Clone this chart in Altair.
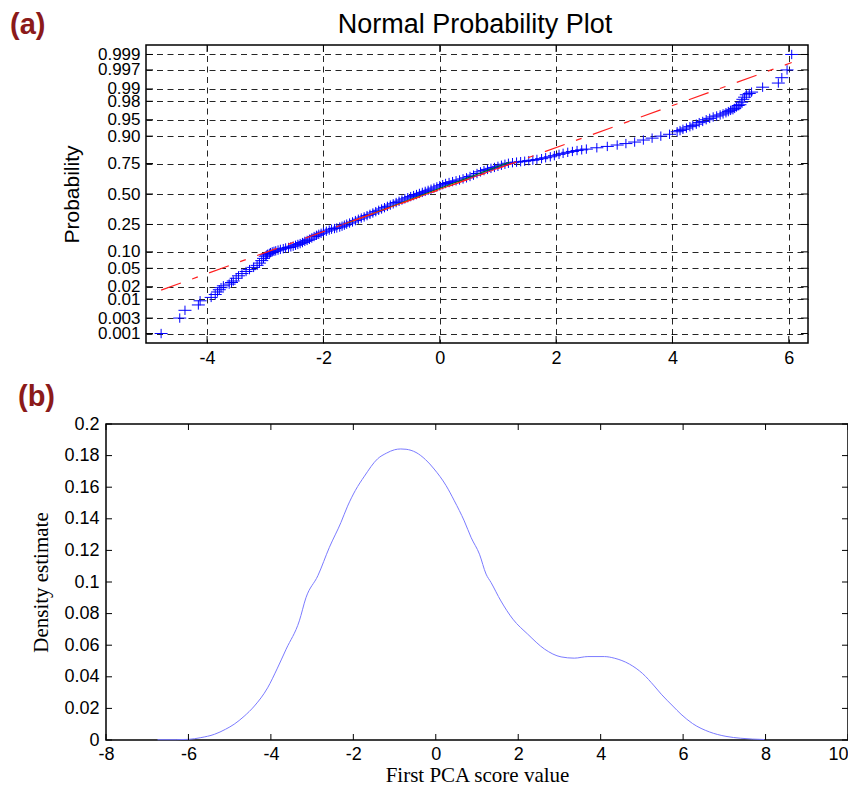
import altair as alt
import pandas as pd
from statistics import NormalDist

nd = NormalDist()

# ---------------- Panel (a): normal probability plot ----------------
pp_x = [
    -4.79, -4.47, -4.38, -4.15, -4.12, -3.93, -3.86, -3.82, -3.79, -3.76, -3.72, -3.62, -3.58, -3.55,
    -3.50, -3.46, -3.40, -3.33, -3.27, -3.20, -3.14, -3.10, -3.06, -3.03, -3.00, -2.96, -2.91, -2.85,
    -2.78, -2.69, -2.60, -2.52, -2.44, -2.36, -2.28, -2.20, -2.12, -2.04, -1.95, -1.86, -1.77, -1.68,
    -1.60, -1.50, -1.40, -1.30, -1.20, -1.10, -1.00, -0.90, -0.80, -0.70, -0.60, -0.50, -0.40, -0.30,
    -0.20, -0.10, 0.00, 0.10, 0.22, 0.34, 0.46, 0.58, 0.70, 0.82, 0.94, 1.06, 1.18, 1.32, 1.46, 1.60,
    1.75, 1.90, 2.05, 2.20, 2.36, 2.52, 2.70, 2.88, 3.05, 3.20, 3.35, 3.50, 3.65, 3.80, 3.95, 4.08,
    4.18, 4.30, 4.41, 4.52, 4.64, 4.76, 4.87, 4.96, 5.04, 5.10, 5.16, 5.19, 5.21, 5.24, 5.27, 5.32,
    5.36, 5.55, 5.82, 5.88, 5.97, 6.05,
]
pp_p = [
    0.001, 0.003, 0.005, 0.007, 0.009, 0.011, 0.013, 0.015, 0.017, 0.019, 0.021, 0.023, 0.025, 0.027,
    0.031, 0.035, 0.039, 0.043, 0.047, 0.052, 0.057, 0.063, 0.070, 0.077, 0.084, 0.091, 0.097, 0.102,
    0.107, 0.113, 0.118, 0.124, 0.132, 0.141, 0.152, 0.165, 0.180, 0.192, 0.205, 0.218, 0.226, 0.238,
    0.252, 0.268, 0.288, 0.306, 0.326, 0.348, 0.370, 0.392, 0.414, 0.436, 0.457, 0.477, 0.495, 0.514,
    0.532, 0.552, 0.572, 0.592, 0.608, 0.622, 0.640, 0.662, 0.688, 0.707, 0.722, 0.738, 0.752, 0.760,
    0.766, 0.773, 0.783, 0.795, 0.810, 0.822, 0.832, 0.840, 0.847, 0.854, 0.861, 0.868, 0.875, 0.884,
    0.892, 0.900, 0.907, 0.916, 0.924, 0.932, 0.939, 0.946, 0.953, 0.958, 0.962, 0.966, 0.969, 0.973,
    0.976, 0.979, 0.982, 0.984, 0.986, 0.987, 0.988, 0.991, 0.993, 0.995, 0.997, 0.999,
]
# further markers read inside the dense part of the band
band_x = [-2.98, -2.93, -2.88, -2.82, -2.74, -2.65, -2.56, -2.48, -2.40, -2.32, -2.24, -2.16, -2.08,
          -2.00, -1.90, -1.81, -1.72, -1.64, -1.55, -1.45, -1.35, -1.25, -1.15, -1.05, -0.95, -0.85,
          -0.75, -0.65, -0.55, -0.45, -0.35, -0.25, -0.15, -0.05, 0.05, 0.16, 0.28, 0.40, 0.52, 0.64,
          0.76, 0.88, 1.00, 1.12, 1.25, 1.39, 1.53, 1.67, 1.82, 1.97, 2.12, 2.28, 2.44, 4.13, 4.24,
          4.35, 4.46, 4.58, 4.70, 4.82, 4.92, 5.00, 5.07, 5.13]
band_p = [0.088, 0.094, 0.100, 0.104, 0.110, 0.116, 0.121, 0.128, 0.136, 0.147, 0.158, 0.173, 0.186,
          0.199, 0.212, 0.222, 0.232, 0.245, 0.260, 0.278, 0.297, 0.316, 0.337, 0.359, 0.381, 0.403,
          0.425, 0.447, 0.467, 0.486, 0.505, 0.523, 0.542, 0.562, 0.582, 0.600, 0.615, 0.631, 0.651,
          0.675, 0.698, 0.715, 0.730, 0.745, 0.756, 0.763, 0.770, 0.778, 0.789, 0.802, 0.816, 0.827,
          0.836, 0.920, 0.928, 0.935, 0.943, 0.950, 0.956, 0.960, 0.964, 0.968, 0.971, 0.975]
ref_x = [-4.79, 6.05]          # dash-dot reference line
ref_p = [0.0166, 0.9982]
mid_x = [-1.67, 1.23]          # solid part between the quartiles
mid_p = [0.25, 0.75]
grn_x = [-1.60, 1.20]
grn_p = [0.258, 0.760]
prob_ticks = [0.001, 0.003, 0.01, 0.02, 0.05, 0.10, 0.25, 0.50, 0.75, 0.90, 0.95, 0.98, 0.99, 0.997, 0.999]
prob_labels = ["0.001", "0.003", "0.01", "0.02", "0.05", "0.10", "0.25", "0.50", "0.75", "0.90",
               "0.95", "0.98", "0.99", "0.997", "0.999"]
xa_ticks = [-4, -2, 0, 2, 4, 6]
title_a = ["Normal Probability Plot"]
tag_a = ["(a)"]

# ---------------- Panel (b): density estimate ----------------
dens_x = [-6.75, -6.3, -6.0, -5.7, -5.37, -5.1, -4.89, -4.65, -4.40, -4.08, -3.85, -3.63, -3.31, -3.15,
          -2.86, -2.58, -2.30, -2.14, -1.95, -1.73, -1.41, -1.20, -1.0, -0.85, -0.72, -0.48, -0.25,
          -0.04, 0.25, 0.45, 0.69, 0.86, 1.06, 1.22, 1.34, 1.58, 1.87, 2.23, 2.64, 3.04, 3.36, 3.69,
          4.09, 4.33, 4.70, 5.02, 5.30, 5.47, 5.75, 5.95, 6.23, 6.64, 7.04, 7.40, 7.97]
dens_y = [0.0002, 0.0002, 0.0004, 0.0015, 0.0036, 0.0068, 0.010, 0.015, 0.0215, 0.033, 0.045, 0.0575,
          0.0754, 0.090, 0.104, 0.122, 0.1377, 0.148, 0.158, 0.167, 0.178, 0.1815, 0.1837, 0.1842,
          0.184, 0.182, 0.1775, 0.1715, 0.161, 0.1514, 0.1387, 0.128, 0.1176, 0.105, 0.0997, 0.088,
          0.0765, 0.067, 0.0575, 0.0526, 0.0518, 0.0528, 0.0528, 0.0518, 0.048, 0.042, 0.0342, 0.029,
          0.0215, 0.0163, 0.0104, 0.0051, 0.0023, 0.0011, 0.0003]
xb_ticks = [-8, -6, -4, -2, 0, 2, 4, 6, 8, 10]
yb_ticks = [0, 0.02, 0.04, 0.06, 0.08, 0.1, 0.12, 0.14, 0.16, 0.18, 0.2]
tag_b = ["(b)"]


def probit(p):
    return round(nd.inv_cdf(p), 5)


SANS = "Liberation Sans"
SERIF = "Liberation Serif"

# ---------------- build panel (a) ----------------
WA, HA = 662, 298
xs_a = alt.Scale(domain=[-5.05, 6.33], nice=False, zero=False)
ys_a = alt.Scale(domain=[-3.3, 3.3], nice=False, zero=False)
tick_z = [probit(p) for p in prob_ticks]
label_expr = "[" + ",".join("'%s'" % s for s in prob_labels) + "][indexof([" + \
    ",".join(repr(z) for z in tick_z) + "], datum.value)]"

df_pts = pd.DataFrame({"x": pp_x + band_x, "z": [probit(p) for p in pp_p + band_p]})
df_ref = pd.DataFrame({"x": ref_x, "z": [probit(p) for p in ref_p]})
df_mid = pd.DataFrame({"x": mid_x, "z": [probit(p) for p in mid_p]})
df_grn = pd.DataFrame({"x": grn_x, "z": [probit(p) for p in grn_p]})
df_xt_a = pd.DataFrame({"x": xa_ticks})
df_yt_a = pd.DataFrame({"z": tick_z})

grid_common = dict(grid=True, gridDash=[6, 4.5], gridColor="black", gridOpacity=0.85, gridWidth=1,
                   ticks=False, tickSize=0, domain=False, labelFont=SANS,
                   labelColor="black", labelFlush=False, labelOverlap=False)

x_axis_a = alt.Axis(values=xa_ticks, labelExpr="'' + datum.value", labelPadding=6, title=None,
                    labelFontSize=18, **grid_common)
y_axis_a = alt.Axis(values=tick_z, labelExpr=label_expr, labelPadding=6, title="Probability",
                    labelFontSize=17,
                    titleFont=SANS, titleFontSize=21, titleFontWeight="normal", titleColor="black",
                    titlePadding=15, **grid_common)

XA = alt.X("x:Q", scale=xs_a, axis=x_axis_a)
YA = alt.Y("z:Q", scale=ys_a, axis=y_axis_a)

pts = alt.Chart(df_pts).mark_point(
    shape="M-1,0H1M0,-0.72V0.72", size=169, filled=False, color="#0000ff", strokeWidth=1, opacity=1
).encode(x=XA, y=YA)
ref_line = alt.Chart(df_ref).mark_line(color="#ff2020", strokeWidth=1.2,
                                       strokeDash=[21, 12, 6, 12]).encode(x=XA, y=YA)
grn_line = alt.Chart(df_grn).mark_line(color="#008000", strokeWidth=1).encode(x=XA, y=YA)
mid_line = alt.Chart(df_mid).mark_line(color="#ff2020", strokeWidth=1).encode(x=XA, y=YA)


def edge_ticks(df_x, df_y, XE, YE, W, H, L):
    layers = []
    for y0, y1 in [(H, H - L), (0, L)]:
        layers.append(alt.Chart(df_x).mark_rule(color="black", strokeWidth=1).encode(
            x=XE, y=alt.value(y0), y2=alt.value(y1)))
    for x0, x1 in [(0, L), (W, W - L)]:
        layers.append(alt.Chart(df_y).mark_rule(color="black", strokeWidth=1).encode(
            y=YE, x=alt.value(x0), x2=alt.value(x1)))
    return layers


title_txt = alt.Chart(pd.DataFrame({"s": title_a})).mark_text(
    font=SANS, fontSize=27, color="black", align="center", baseline="alphabetic"
).encode(text="s:N", x=alt.value(WA / 2 - 2), y=alt.value(-12))
tag_txt_a = alt.Chart(pd.DataFrame({"s": tag_a})).mark_text(
    font=SANS, fontSize=29, fontWeight="bold", color="#8b1a1a", align="left", baseline="alphabetic"
).encode(text="s:N", x=alt.value(-136), y=alt.value(-11))

chart_a = alt.layer(
    pts, grn_line, mid_line, ref_line,
    *edge_ticks(df_xt_a, df_yt_a, XA, YA, WA, HA, 7),
    title_txt, tag_txt_a,
).properties(width=WA, height=HA)

# ---------------- build panel (b) ----------------
WB, HB = 742, 316
xs_b = alt.Scale(domain=[-8, 10], nice=False, zero=False)
ys_b = alt.Scale(domain=[0, 0.2], nice=False, zero=False)
df_d = pd.DataFrame({"x": dens_x, "y": dens_y})
df_xt_b = pd.DataFrame({"x": xb_ticks})
df_yt_b = pd.DataFrame({"y": yb_ticks})

common_b = dict(grid=False, ticks=False, tickSize=0, domain=False, labelFont=SANS, labelFontSize=18,
                labelColor="black", labelFlush=False, labelOverlap=False,
                labelExpr="'' + datum.value", titleFont=SERIF, titleFontSize=21,
                titleFontWeight="normal", titleColor="black")
x_axis_b = alt.Axis(values=xb_ticks, labelPadding=5, title="First PCA score value", titlePadding=1,
                    labelAlign={"condition": {"test": "datum.value == 10", "value": "right"},
                                "value": "center"},
                    **common_b)
y_axis_b = alt.Axis(values=yb_ticks, labelPadding=7, title="Density estimate", titlePadding=12,
                    **common_b)
XB = alt.X("x:Q", scale=xs_b, axis=x_axis_b)
YB = alt.Y("y:Q", scale=ys_b, axis=y_axis_b)

dens = alt.Chart(df_d).mark_line(color="#7b7bff", strokeWidth=1, interpolate="monotone").encode(
    x=XB, y=YB)
tag_txt_b = alt.Chart(pd.DataFrame({"s": tag_b})).mark_text(
    font=SANS, fontSize=29, fontWeight="bold", color="#8b1a1a", align="left", baseline="alphabetic"
).encode(text="s:N", x=alt.value(-88), y=alt.value(-18))

chart_b = alt.layer(
    dens, *edge_ticks(df_xt_b, df_yt_b, XB, YB, WB, HB, 6), tag_txt_b
).properties(width=WB, height=HB)

chart = alt.vconcat(chart_a, chart_b, spacing=81, bounds="flush", center=True).configure_view(
    stroke="black", strokeWidth=1.5
).properties(padding={"left": 1, "top": 2, "right": -2, "bottom": 0})

chart.save("out.html", embed_options={"renderer": "svg", "actions": False})
